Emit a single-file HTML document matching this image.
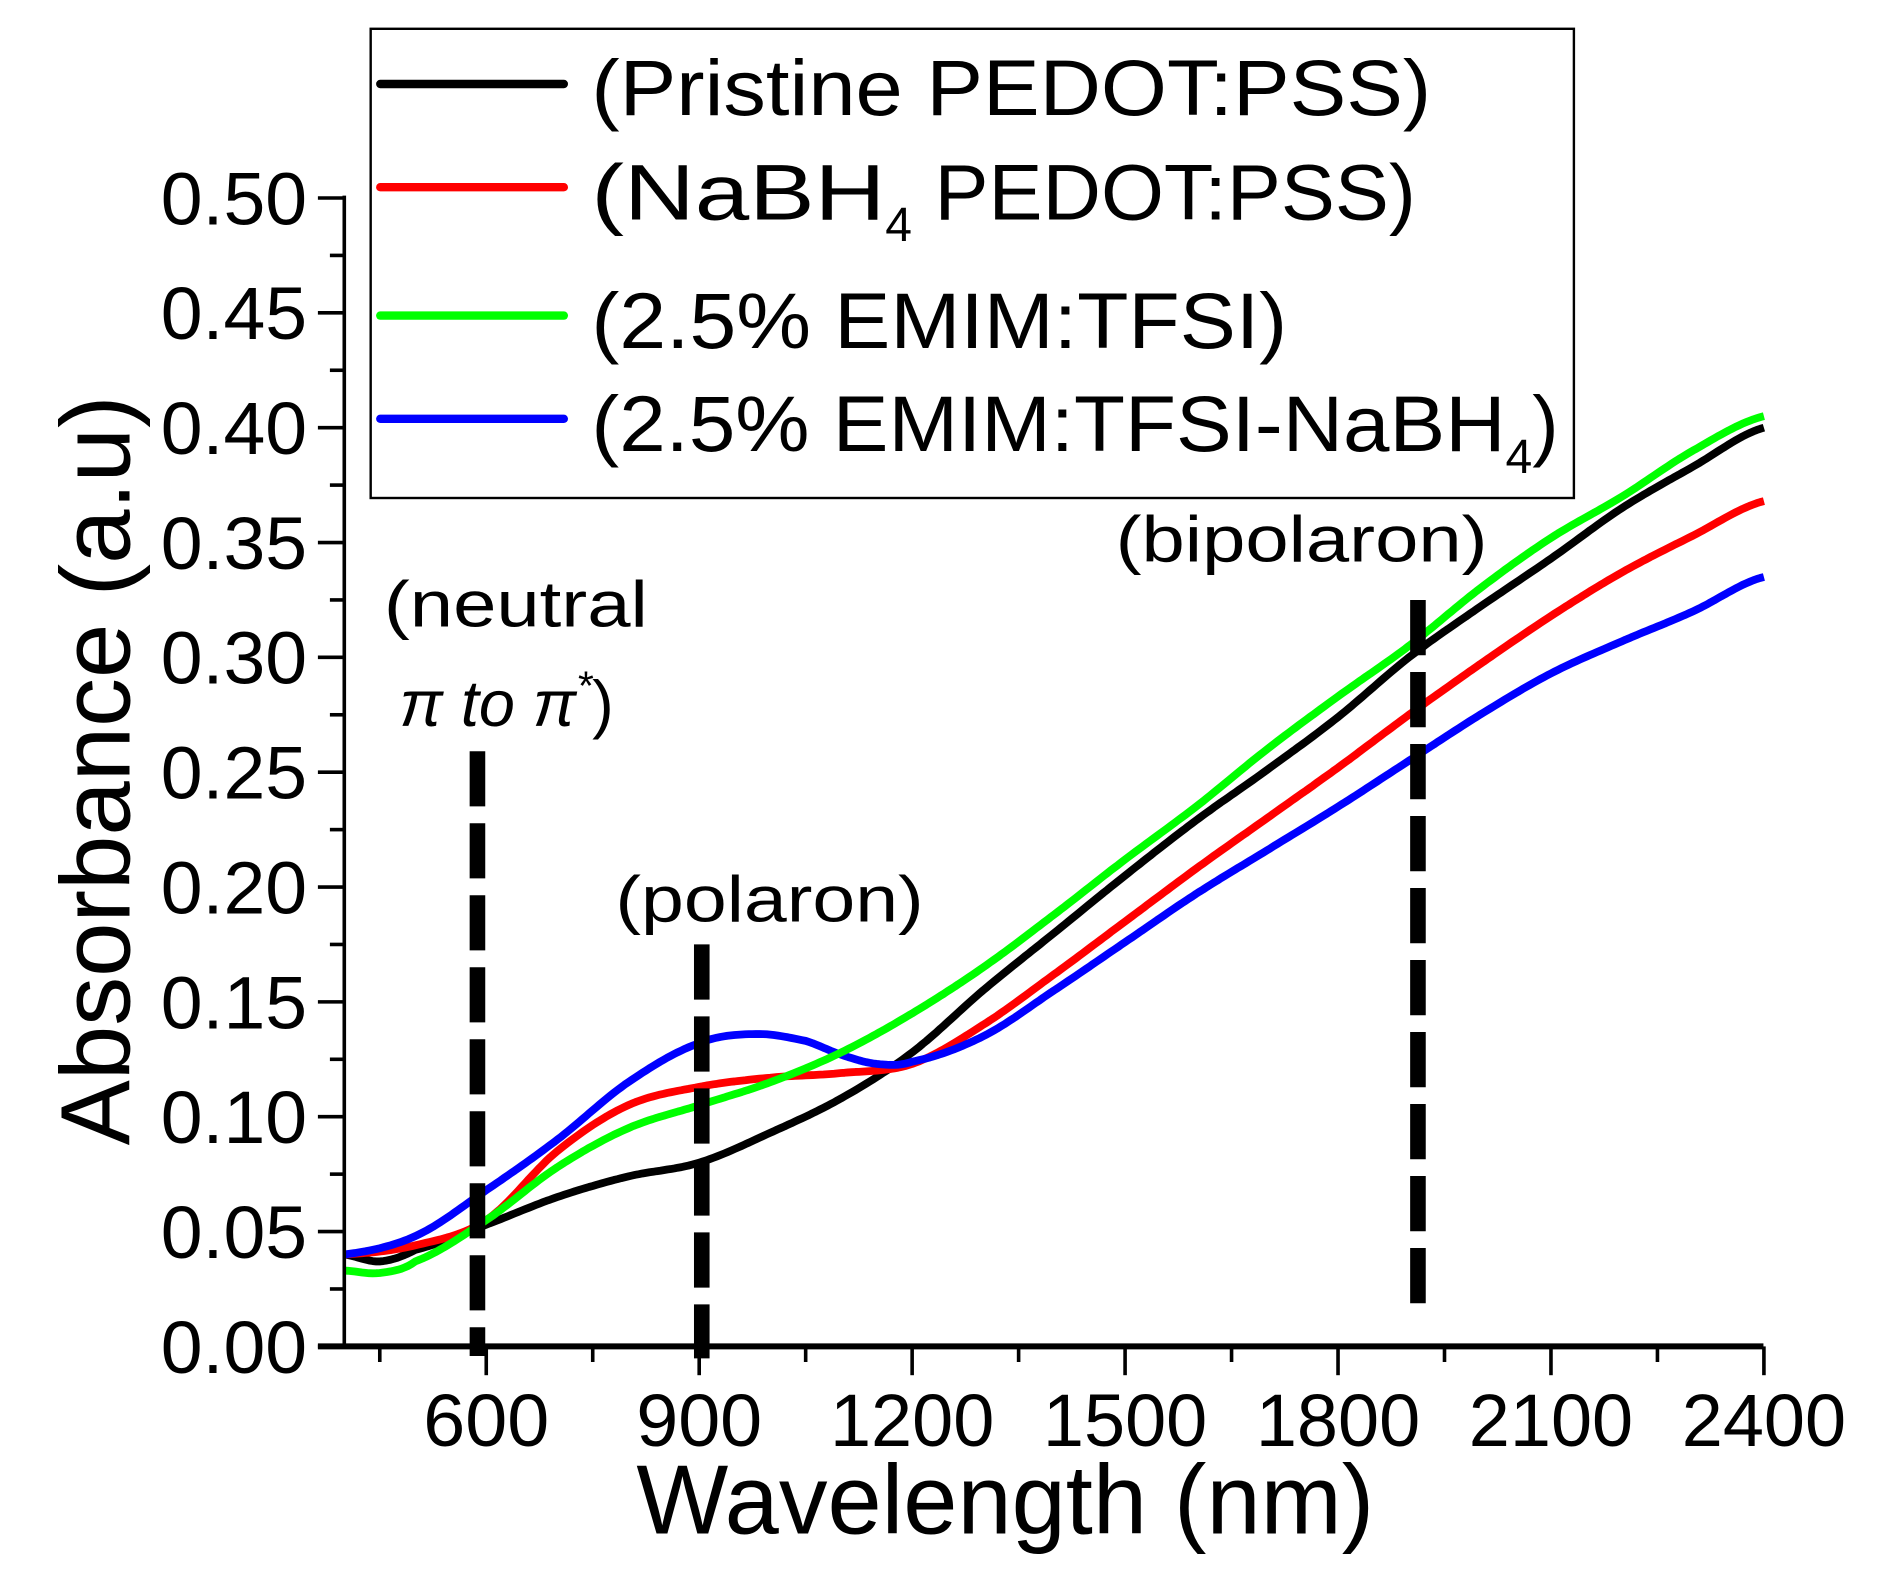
<!DOCTYPE html>
<html><head><meta charset="utf-8"><style>
html,body{margin:0;padding:0;background:#fff;}
svg{display:block;}
text{font-family:"Liberation Sans",Arial,sans-serif;fill:#000;}
</style></head><body>
<svg id="s" width="1881" height="1596" viewBox="0 0 1568 1330" preserveAspectRatio="none" xmlns="http://www.w3.org/2000/svg">
<rect width="1568" height="1330" fill="#fff"/>
<g id="ticks" stroke="#000" stroke-width="3"></g>
<g id="curves" fill="none" stroke-width="6.5" stroke-linejoin="round"></g>
<g stroke="#000" stroke-width="13" stroke-dasharray="46,14">
<line x1="398" y1="626" x2="398" y2="1130"/>
<line x1="585" y1="787" x2="585" y2="1132"/>
<line x1="1182" y1="500" x2="1182" y2="1090"/>
</g>
<line x1="287" y1="163" x2="287" y2="1123" stroke="#000" stroke-width="3"/>
<line x1="265" y1="1122" x2="1470" y2="1122" stroke="#000" stroke-width="5"/>
<g font-size="62" text-anchor="end" id="ylab"></g>
<g font-size="62" text-anchor="middle" id="xlab"></g>
<text transform="translate(108,642) rotate(-90)" font-size="82" text-anchor="middle" textLength="625" lengthAdjust="spacingAndGlyphs">Absorbance (a.u)</text>
<text x="838" y="1278" font-size="82" text-anchor="middle" textLength="615" lengthAdjust="spacingAndGlyphs">Wavelength (nm)</text>
<text x="320" y="522" font-size="54" textLength="220" lengthAdjust="spacingAndGlyphs">(neutral</text>
<text x="333" y="605" font-size="54" font-family="Liberation Serif" font-style="italic">π to π<tspan font-size="34" dy="-22">*</tspan><tspan dy="22" font-style="normal" font-family="Liberation Sans">)</tspan></text>
<text x="513" y="768" font-size="54" textLength="257" lengthAdjust="spacingAndGlyphs">(polaron)</text>
<text x="930" y="468" font-size="54" textLength="310" lengthAdjust="spacingAndGlyphs">(bipolaron)</text>
<rect x="309" y="24" width="1003" height="391" fill="#fff" stroke="#000" stroke-width="2"/>
<g stroke-width="7" stroke-linecap="round">
<line x1="317" y1="70" x2="470" y2="70" stroke="#000"/>
<line x1="317" y1="156" x2="470" y2="156" stroke="#ff0000"/>
<line x1="317" y1="263" x2="470" y2="263" stroke="#00ff00"/>
<line x1="317" y1="349" x2="470" y2="349" stroke="#0000ff"/>
</g>
<g font-size="66">
<text x="493" y="96" textLength="700" lengthAdjust="spacingAndGlyphs">(Pristine PEDOT:PSS)</text>
<text x="493" y="183"><tspan textLength="245" lengthAdjust="spacingAndGlyphs">(NaBH</tspan><tspan font-size="40" dy="18">4</tspan><tspan dy="-18" textLength="420" lengthAdjust="spacingAndGlyphs"> PEDOT:PSS)</tspan></text>
<text x="493" y="290" textLength="580" lengthAdjust="spacingAndGlyphs">(2.5% EMIM:TFSI)</text>
<text x="493" y="376"><tspan textLength="762" lengthAdjust="spacingAndGlyphs">(2.5% EMIM:TFSI-NaBH</tspan><tspan font-size="40" dy="18">4</tspan><tspan dy="-18">)</tspan></text>
</g>
</svg>
<script>
var NS="http://www.w3.org/2000/svg";
function X(n){return 287+(n-400)*0.5917;}
function Y(v){return 1122-v*1914;}
function el(p,t,a){var e=document.createElementNS(NS,t);for(var k in a)e.setAttribute(k,a[k]);p.appendChild(e);return e;}
var tk=document.getElementById('ticks');
for(var i=0;i<=20;i++){var v=i*0.025,y=Y(v);el(tk,'line',{x1:(i%2?275:265),y1:y,x2:287,y2:y});}
for(var n=450;n<=2400;n+=150){var x=X(n);el(tk,'line',{x1:x,y1:1122,x2:x,y2:((n-600)%300==0?1146:1135)});}
var yl=document.getElementById('ylab');
for(var i=0;i<=10;i++){var t=el(yl,'text',{x:256,y:Y(i*0.05)+22,textLength:122,lengthAdjust:"spacingAndGlyphs"});t.textContent=(i*0.05).toFixed(2);}
var xl=document.getElementById('xlab');
for(var n=600;n<=2400;n+=300){var t=el(xl,'text',{x:X(n),y:1205,textLength:(n<1000?105:137),lengthAdjust:"spacingAndGlyphs"});t.textContent=n;}
var D={
"#000000":[[400,.040],[450,.037],[500,.042],[600,.053],[700,.065],[800,.074],[900,.080],[1000,.093],[1100,.108],[1200,.128],[1300,.155],[1400,.180],[1500,.205],[1600,.229],[1700,.251],[1800,.274],[1900,.300],[2000,.322],[2100,.343],[2200,.365],[2300,.383],[2400,.400]],
"#ff0000":[[400,.040],[500,.044],[600,.055],[700,.085],[800,.105],[900,.113],[1000,.117],[1100,.119],[1200,.123],[1300,.140],[1400,.162],[1500,.185],[1600,.208],[1700,.230],[1800,.252],[1900,.275],[2000,.297],[2100,.318],[2200,.337],[2300,.353],[2400,.368]],
"#0000ff":[[400,.040],[500,.048],[600,.068],[700,.090],[800,.115],[900,.132],[980,.136],[1050,.133],[1100,.127],[1150,.123],[1200,.124],[1300,.135],[1400,.155],[1500,.176],[1600,.197],[1700,.216],[1800,.235],[1900,.255],[2000,.275],[2100,.293],[2200,.307],[2300,.320],[2400,.335]],
"#00ff00":[[400,.033],[450,.032],[500,.037],[600,.055],[700,.078],[800,.095],[900,.105],[1000,.115],[1100,.128],[1200,.145],[1300,.165],[1400,.188],[1500,.212],[1600,.235],[1700,.260],[1800,.283],[1900,.305],[2000,.330],[2100,.352],[2200,.370],[2300,.390],[2400,.405]]
};
var cg=document.getElementById('curves');
["#000000","#ff0000","#0000ff","#00ff00"].forEach(function(c){
 var p=D[c],pts=[];
 for(var n=400;n<=2400;n+=5){
  var j=0;while(j<p.length-2&&p[j+1][0]<n)j++;
  var a=p[j],b=p[j+1],t=(n-a[0])/(b[0]-a[0]);
  var p0=p[Math.max(j-1,0)],p3=p[Math.min(j+2,p.length-1)];
  var t2=t*t,t3=t2*t;
  var v=0.5*((2*a[1])+(-p0[1]+b[1])*t+(2*p0[1]-5*a[1]+4*b[1]-p3[1])*t2+(-p0[1]+3*a[1]-3*b[1]+p3[1])*t3);
  pts.push(X(n).toFixed(1)+","+Y(v).toFixed(1));
 }
 el(cg,'polyline',{points:pts.join(" "),stroke:c});
});
</script>
</body></html>
